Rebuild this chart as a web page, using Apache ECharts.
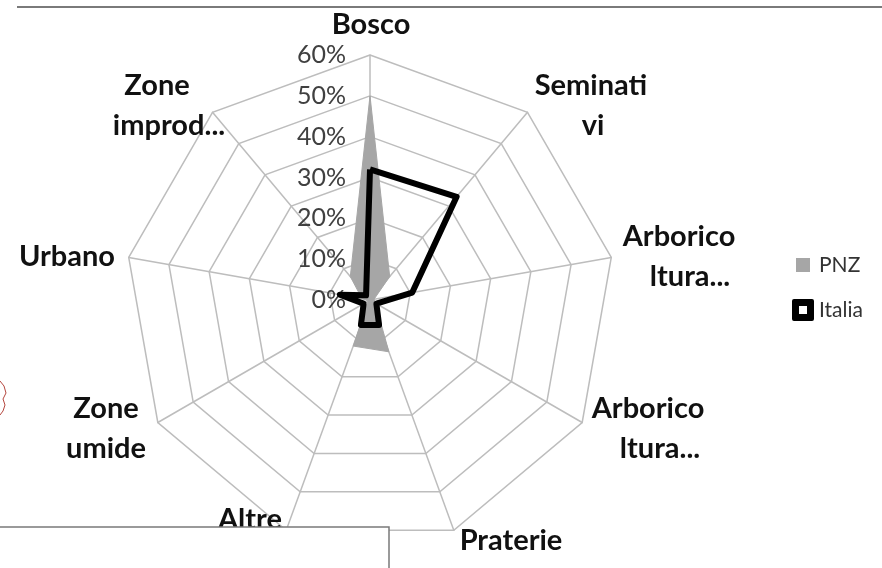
<!DOCTYPE html>
<html>
<head>
<meta charset="utf-8">
<script src="https://cdn.jsdelivr.net/npm/echarts@6/dist/echarts.min.js"></script>
<style>
html,body{margin:0;padding:0;background:#fff;}
#chart{width:882px;height:568px;}
</style>
</head>
<body>
<div id="chart"></div>
<script>
// ---- data (Excel order, clockwise from top) ----
const categories = ['Bosco', 'Seminativi', 'Arboricoltura 1', 'Arboricoltura 2', 'Praterie', 'Altre', 'Zone umide', 'Urbano', 'Zone improduttive'];
const pnzValues = [50, 7.5, 1, 1.5, 13.5, 12, 0.5, 2, 7.5];
const italiaValues = [32, 33, 10.5, 1.8, 6.5, 6.5, 1.8, 7.5, 1.5];
const axisMax = 60;
const tickStep = 10;
const seriesNames = ['PNZ', 'Italia'];

// ---- visible axis names (lines as shown in the picture) ----
const nameLines = [
  ['Bosco'], ['Seminati', 'vi'], ['Arborico', 'ltura...'], ['Arborico', 'ltura...'],
  ['Praterie'], ['Altre'], ['Zone', 'umide'], ['Urbano'], ['Zone', 'improd...']
];
// label placement (layout only)
const nameLayout = [
  [[371, 25]],
  [[591, 86], [593, 126]],
  [[679, 237], [690, 277]],
  [[648, 409], [660, 449]],
  [[511, 541]],
  [[250, 520]],
  [[106, 409], [106, 449]],
  [[67, 257]],
  [[157, 86], [169, 126]]
];

// ECharts radar goes counter-clockwise: reorder so picture runs clockwise
const order = [0];
for (let i = categories.length - 1; i >= 1; i--) order.push(i);

const indicator = order.map((idx, k) => {
  const ind = { name: categories[idx], min: 0, max: axisMax };
  if (k === 0) {
    ind.axisLabel = {
      show: true, margin: 24, fontFamily: 'Lato', fontSize: 25, color: '#404040',
      formatter: v => v + '%'
    };
  }
  return ind;
});
const reorder = arr => order.map(i => arr[i]);

const FONT_NAME = 'bold 29px Lato';
const graphics = [];
nameLines.forEach((lines, i) => {
  lines.forEach((t, j) => {
    const p = nameLayout[i][j];
    graphics.push({
      type: 'text', x: p[0], y: p[1], z: 10,
      style: { text: t, font: FONT_NAME, fill: '#111', align: 'center', verticalAlign: 'middle',
               textAlign: 'center', textVerticalAlign: 'middle' }
    });
  });
});
// frame line at top, text box at bottom-left, small red shape at the left edge
graphics.push({ type: 'line', z: 5, shape: { x1: 17, y1: 7, x2: 882, y2: 7 }, style: { stroke: '#7a7a7a', lineWidth: 2 } });
graphics.push({ type: 'rect', z: 50, shape: { x: -2, y: 527, width: 391, height: 50 }, style: { fill: '#fff', stroke: '#7a7a7a', lineWidth: 1.5 } });
graphics.push({ type: 'polyline', z: 5, shape: { points: [[0, 381], [4, 386], [6, 393], [3, 399], [5, 405], [3, 411], [0, 415]] }, style: { stroke: '#b5473f', lineWidth: 1, fill: null } });

const chart = echarts.init(document.getElementById('chart'), null, { renderer: 'canvas' });
chart.setOption({
  animation: false,
  backgroundColor: '#fff',
  legend: {
    orient: 'vertical', left: 787, top: 249, itemWidth: 22, itemHeight: 22, itemGap: 23,
    textStyle: { fontFamily: 'Lato', fontSize: 21, color: '#333' },
    data: [
      { name: seriesNames[0], icon: 'path://M0,0M22,22M4,4h14v14h-14z', itemStyle: { color: '#a6a6a6', borderWidth: 0 } },
      { name: seriesNames[1], icon: 'path://M2,0h18q2,0 2,2v18q0,2 -2,2h-18q-2,0 -2,-2v-18q0,-2 2,-2z M7,7v8h8v-8z', itemStyle: { color: '#000', borderWidth: 0 } }
    ]
  },
  radar: {
    center: [370, 300], radius: 245, startAngle: 90, splitNumber: axisMax / tickStep,
    shape: 'polygon',
    axisName: { show: false },
    splitLine: { lineStyle: { color: '#bdbdbd', width: 1.5 } },
    axisLine: { lineStyle: { color: '#bdbdbd', width: 1.5 } },
    splitArea: { show: false },
    axisTick: { show: false },
    axisLabel: { show: false },
    indicator: indicator
  },
  graphic: { elements: graphics },
  series: [
    {
      type: 'radar', name: seriesNames[0], symbol: 'none', z: 2,
      data: [{ name: seriesNames[0], value: reorder(pnzValues),
               itemStyle: { color: '#a6a6a6' },
               lineStyle: { color: '#a6a6a6', width: 1 },
               areaStyle: { color: '#a6a6a6', opacity: 1 } }]
    },
    {
      type: 'radar', name: seriesNames[1], symbol: 'none', z: 3,
      data: [{ name: seriesNames[1], value: reorder(italiaValues),
               itemStyle: { color: '#000' },
               lineStyle: { color: '#000', width: 6 } }]
    }
  ]
});
</script>
</body>
</html>
